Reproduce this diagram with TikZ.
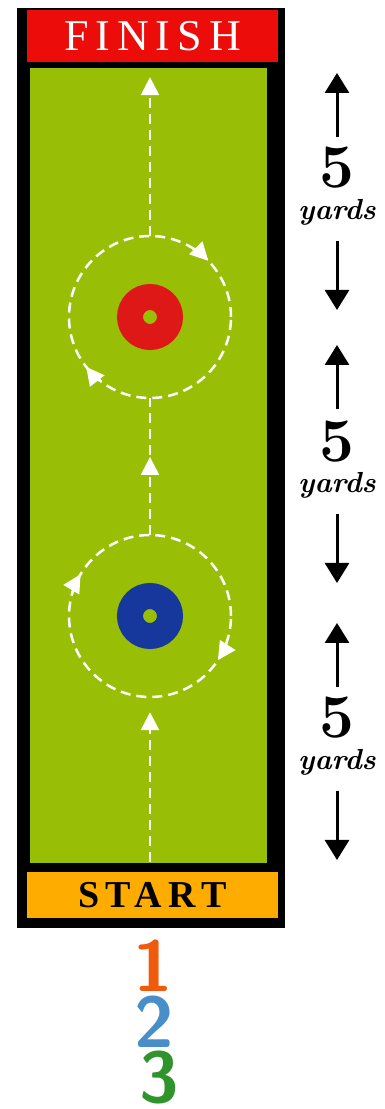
\documentclass[tikz,border=0pt]{standalone}
\usepackage{xcolor}
\usepackage{fontspec}
\usepackage{tikz}
\usetikzlibrary{shapes,arrows.meta,positioning,calc,decorations.markings}
\newfontfamily\bannerfont{Liberation Serif}
\definecolor{turf}{RGB}{152,190,6}
\definecolor{flagred}{RGB}{236,12,10}
\definecolor{startorange}{RGB}{255,172,0}
\definecolor{conered}{RGB}{222,24,22}
\definecolor{coneblue}{RGB}{22,56,156}
\definecolor{numorange}{RGB}{240,90,12}
\definecolor{numblue}{RGB}{72,142,200}
\definecolor{numgreen}{RGB}{48,148,44}

\begin{document}
\begin{tikzpicture}[x=1pt, y=1pt,
    frame/.style={rectangle, fill=black, inner sep=0pt, minimum width=268pt, minimum height=920pt},
    banner/.style={rectangle, inner sep=0pt, minimum width=251pt},
    field/.style={rectangle, fill=turf, inner sep=0pt, minimum width=237pt, minimum height=795pt},
    cone/.style={circle, draw=#1, line width=26pt, inner sep=0pt, minimum size=40pt},
    lap/.style={circle, inner sep=0pt, minimum size=162pt},
    track/.style={white, line width=2.5pt, dash pattern=on 10pt off 6pt},
    laptip/.style={white, line width=2.5pt, -{Triangle[length=18pt,width=18pt]}},
    five/.style={font=\fontsize{62}{62}\selectfont\bfseries, inner sep=0pt, text height=41pt, text depth=0pt},
    yardlabel/.style={font=\fontsize{29}{29}\selectfont\bfseries\itshape, inner sep=0pt, text height=20pt, text depth=6pt},
    span/.style={black, line width=3pt, -{Triangle[length=20pt,width=24pt]}},
    digit/.style={font=\fontsize{72}{72}\selectfont\sffamily\bfseries, inner sep=0pt, text height=50pt, text depth=0pt}
]
    \useasboundingbox (0,0) rectangle (385,1109);

    \node[frame] (frame) at (151,641) {};
    \node[banner, fill=flagred, minimum height=52pt, text=white,
        font=\bannerfont\fontsize{44}{44}\selectfont\addfontfeature{LetterSpace=16}] (finish) at (152.5,1073) {FINISH};
    \node[field] (field) at (148.5,643.5) {};
    \node[banner, fill=startorange, minimum height=46pt,
        font=\bannerfont\bfseries\fontsize{38}{38}\selectfont\addfontfeature{LetterSpace=17}] (start) at (152.5,214) {START};

    \node[lap] (redlap) at (150,792) {};
    \node[cone=conered] (redcone) at (redlap) {};
    \node[lap] (bluelap) at (150,493) {};
    \node[cone=coneblue] (bluecone) at (bluelap) {};
    \draw[track] (redlap) circle[radius=81pt];
    \draw[track] (bluelap) circle[radius=81pt];
    \draw[laptip] ([shift={(58:81pt)}]redlap.center) arc[start angle=58, end angle=44, radius=81pt];
    \draw[laptip] ([shift={(232:81pt)}]redlap.center) arc[start angle=232, end angle=218, radius=81pt];
    \draw[laptip] ([shift={(163:81pt)}]bluelap.center) arc[start angle=163, end angle=149, radius=81pt];
    \draw[laptip] ([shift={(341:81pt)}]bluelap.center) arc[start angle=341, end angle=327, radius=81pt];

    \draw[track, shorten <=10pt, shorten >=15pt, -{Triangle[length=18pt,width=18pt]}] (start.north -| bluelap) -- (bluelap.south);
    \draw[track, postaction={decorate}, decoration={markings, mark=at position 0.57 with {\arrow{Triangle[length=18pt,width=18pt]}}}] (bluelap.north) -- (redlap.south);
    \draw[track, shorten >=15pt, -{Triangle[length=18pt,width=18pt]}] (redlap.north) -- (finish.south -| redlap);

    \node[five] (fiveA) at (337,941.5) {5};
    \node[yardlabel, below=11pt of fiveA] (yardsA) {yards};
    \coordinate (upA) at (337,1036);
    \coordinate (downA) at (337,799);
    \draw[span, shorten <=10pt] (fiveA) -- (upA);
    \draw[span, shorten <=15pt] (yardsA) -- (downA);

    \node[five] (fiveB) at (337,668) {5};
    \node[yardlabel, below=11pt of fiveB] (yardsB) {yards};
    \coordinate (upB) at (337,764);
    \coordinate (downB) at (337,526);
    \draw[span, shorten <=11pt] (fiveB) -- (upB);
    \draw[span, shorten <=15pt] (yardsB) -- (downB);

    \node[five] (fiveC) at (337,391.5) {5};
    \node[yardlabel, below=11pt of fiveC] (yardsC) {yards};
    \coordinate (upC) at (337,486);
    \coordinate (downC) at (337,249);
    \draw[span, shorten <=10pt] (fiveC) -- (upC);
    \draw[span, shorten <=15pt] (yardsC) -- (downC);

    \node[digit, text=numorange] (one) at (153,142) {1};
    \node[digit, text=numblue] (two) at (154,86) {2};
    \node[digit, text=numgreen] (three) at (159,31) {3};
\end{tikzpicture}
\end{document}
